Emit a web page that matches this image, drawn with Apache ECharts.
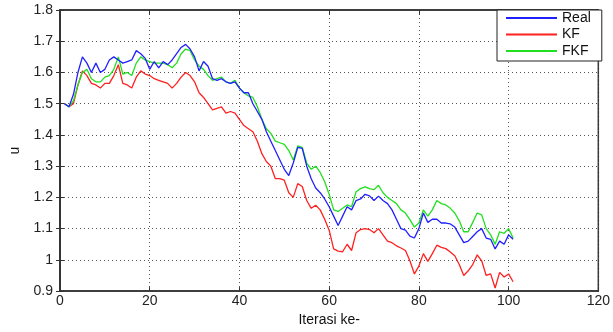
<!DOCTYPE html>
<html>
<head>
<meta charset="utf-8">
<script src="https://cdn.jsdelivr.net/npm/echarts@6/dist/echarts.min.js"></script>
<style>html,body{margin:0;padding:0;background:#fff;}#c{width:613px;height:332px;}</style>
</head>
<body>
<div id="c"></div>
<script>
const iterations = Array.from({length: 101}, (_, k) => k + 1);
const xTicks = [0, 20, 40, 60, 80, 100, 120];
const yTicks = [0.9, 1, 1.1, 1.2, 1.3, 1.4, 1.5, 1.6, 1.7, 1.8];
const seriesNames = ['Real', 'KF', 'FKF'];
const realValues = [
  1.50,1.49,1.53,1.60,1.65,1.63,1.60,1.63,1.60,1.61,
  1.64,1.65,1.64,1.63,1.635,1.64,1.67,1.66,1.645,1.61,
  1.635,1.615,1.635,1.625,1.64,1.66,1.68,1.69,1.675,1.65,
  1.605,1.635,1.62,1.58,1.575,1.58,1.57,1.565,1.57,1.55,
  1.535,1.535,1.50,1.475,1.45,1.41,1.38,1.35,1.32,1.29,
  1.27,1.31,1.36,1.357,1.30,1.26,1.23,1.215,1.195,1.17,
  1.14,1.11,1.14,1.17,1.16,1.19,1.195,1.21,1.205,1.19,
  1.204,1.19,1.18,1.16,1.13,1.10,1.095,1.076,1.07,1.10,
  1.15,1.12,1.13,1.13,1.118,1.118,1.115,1.105,1.08,1.055,
  1.06,1.075,1.09,1.10,1.07,1.066,1.035,1.06,1.05,1.08,
  1.066
];
const kfValues = [
  1.50,1.49,1.50,1.56,1.605,1.59,1.565,1.56,1.55,1.565,
  1.565,1.59,1.625,1.565,1.56,1.55,1.585,1.605,1.595,1.59,
  1.58,1.575,1.57,1.565,1.55,1.565,1.585,1.60,1.59,1.57,
  1.535,1.52,1.50,1.48,1.485,1.49,1.47,1.475,1.47,1.45,
  1.43,1.42,1.41,1.38,1.34,1.315,1.30,1.26,1.26,1.255,
  1.215,1.20,1.244,1.235,1.19,1.165,1.175,1.16,1.13,1.095,
  1.035,1.028,1.026,1.05,1.03,1.087,1.097,1.10,1.097,1.087,
  1.10,1.08,1.06,1.055,1.045,1.038,1.03,0.997,0.955,0.98,
  1.02,0.995,1.02,1.047,1.04,1.036,1.025,1.013,0.985,0.95,
  0.965,0.985,1.016,0.997,0.95,0.955,0.91,0.96,0.945,0.955,
  0.93
];
const fkfValues = [
  1.50,1.49,1.51,1.56,1.60,1.61,1.58,1.57,1.57,1.585,
  1.59,1.61,1.65,1.595,1.60,1.59,1.63,1.65,1.64,1.635,
  1.63,1.63,1.63,1.625,1.615,1.63,1.66,1.675,1.67,1.64,
  1.62,1.61,1.59,1.575,1.58,1.585,1.57,1.565,1.575,1.55,
  1.535,1.525,1.52,1.49,1.45,1.42,1.405,1.38,1.375,1.37,
  1.35,1.32,1.365,1.36,1.31,1.29,1.30,1.28,1.25,1.21,
  1.16,1.155,1.165,1.176,1.17,1.218,1.228,1.234,1.228,1.225,
  1.239,1.215,1.20,1.19,1.18,1.16,1.15,1.129,1.105,1.118,
  1.16,1.14,1.16,1.19,1.18,1.176,1.165,1.15,1.125,1.09,
  1.09,1.12,1.15,1.144,1.10,1.08,1.05,1.09,1.085,1.10,
  1.07
];

const pair = (vals) => iterations.map((x, k) => [x, vals[k]]);
const axisColor = '#333';
const fontFam = 'Liberation Sans, Arial, sans-serif';
const fmtY = v => String(parseFloat(Number(v).toFixed(1)));

const chart = echarts.init(document.getElementById('c'), null, {renderer: 'canvas'});
chart.setOption({
  animation: false,
  backgroundColor: '#fff',
  grid: {left: 59, right: 11, top: 10, bottom: 36, show: true, borderColor: axisColor, borderWidth: 1.5, backgroundColor: '#fff'},
  legend: {
    data: seriesNames,
    orient: 'vertical',
    left: 497, top: 10,
    padding: [1, 11, 3, 9],
    itemGap: 2.5,
    itemWidth: 51, itemHeight: 2,
    icon: 'rect',
    backgroundColor: '#fff',
    borderColor: '#222', borderWidth: 1,
    textStyle: {fontFamily: fontFam, fontSize: 14, color: '#111', lineHeight: 14}
  },
  xAxis: [{
    type: 'value', min: xTicks[0], max: xTicks[xTicks.length - 1], interval: xTicks[1] - xTicks[0],
    name: 'Iterasi ke-', nameLocation: 'middle', nameGap: 19,
    nameTextStyle: {fontFamily: fontFam, fontSize: 14, color: '#111'},
    axisLine: {show: true, onZero: false, lineStyle: {color: axisColor, width: 1.5}},
    axisTick: {show: true, inside: true, length: 4, lineStyle: {color: axisColor}},
    axisLabel: {fontFamily: fontFam, fontSize: 14, color: '#222', margin: 3},
    splitLine: {show: true, lineStyle: {type: [1, 3], color: '#555', width: 1}}
  }, {
    type: 'value', position: 'top', min: xTicks[0], max: xTicks[xTicks.length - 1], interval: xTicks[1] - xTicks[0],
    axisLine: {show: true, lineStyle: {color: axisColor, width: 1.5}},
    axisTick: {show: true, inside: true, length: 4, lineStyle: {color: axisColor}},
    axisLabel: {show: false}, splitLine: {show: false}
  }],
  yAxis: [{
    type: 'value', min: yTicks[0], max: yTicks[yTicks.length - 1], interval: 0.1,
    name: 'u', nameLocation: 'middle', nameGap: 38,
    nameTextStyle: {fontFamily: fontFam, fontSize: 14, color: '#111'},
    axisLine: {show: true, onZero: false, lineStyle: {color: axisColor, width: 1.5}},
    axisTick: {show: true, inside: true, length: 4, lineStyle: {color: axisColor}},
    axisLabel: {fontFamily: fontFam, fontSize: 14, color: '#222', margin: 7, formatter: fmtY},
    splitLine: {show: true, lineStyle: {type: [1, 3], color: '#555', width: 1}}
  }, {
    type: 'value', position: 'right', min: yTicks[0], max: yTicks[yTicks.length - 1], interval: 0.1,
    axisLine: {show: true, lineStyle: {color: axisColor, width: 1.5}},
    axisTick: {show: true, inside: true, length: 4, lineStyle: {color: axisColor}},
    axisLabel: {show: false}, splitLine: {show: false}
  }],
  series: [
    {name: seriesNames[0], type: 'line', data: pair(realValues), showSymbol: false, z: 4,
     lineStyle: {color: '#2020ff', width: 1.3}, itemStyle: {color: '#2020ff'}},
    {name: seriesNames[1], type: 'line', data: pair(kfValues), showSymbol: false, z: 3,
     lineStyle: {color: '#ff2020', width: 1.3}, itemStyle: {color: '#ff2020'}},
    {name: seriesNames[2], type: 'line', data: pair(fkfValues), showSymbol: false, z: 3,
     lineStyle: {color: '#20e020', width: 1.3}, itemStyle: {color: '#20e020'}}
  ]
});
</script>
</body>
</html>
